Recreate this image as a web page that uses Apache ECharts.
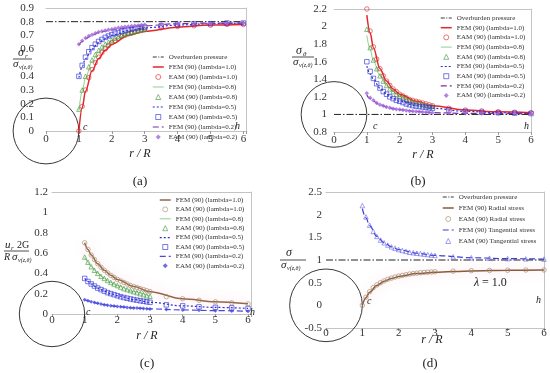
<!DOCTYPE html>
<html><head><meta charset="utf-8">
<script src="https://cdn.jsdelivr.net/npm/echarts@6/dist/echarts.min.js"></script>
<style>html,body{margin:0;padding:0;background:#fff}#c{width:550px;height:373px}</style>
</head><body><div id="c"></div>
<script>
// ---- x positions ----
const xEam = [1,1.1,1.2,1.3,1.4,1.5,1.6,1.7,1.8,1.9,2,2.1,2.2,2.3,2.4,2.5,2.6,2.7,2.8,2.9,3,3.5,4,4.5,5,5.5,6];
const xEamShort = [1,1.1,1.2,1.3,1.4,1.5,1.6,1.7,1.8,1.9,2,2.1,2.2,2.3,2.4,2.5,2.6,2.7,2.8,2.9,3];
const xFem = [1,1.1,1.2,1.4,1.6,1.8,2,2.5,3,4,5,6];
const xFemShort = [1,1.1,1.2,1.4,1.6,1.8,2,2.5,3];
const xOver = [0,6];

// ---- panel (a): radial stress ----
const overA = [0.8,0.8];
const aFem10 = [0,0.17,0.29,0.44,0.53,0.59,0.635,0.70,0.73,0.76,0.775,0.78];
const aEam10 = [0,0.18,0.30,0.39,0.45,0.50,0.54,0.575,0.60,0.625,0.645,0.66,0.675,0.69,0.70,0.71,0.72,0.725,0.73,0.735,0.74,0.755,0.765,0.77,0.775,0.78,0.78];
const aFem08 = [0.15,0.29,0.39,0.51,0.58,0.625,0.66,0.71,0.74];
const aEam08 = [0.16,0.30,0.40,0.47,0.52,0.56,0.59,0.615,0.635,0.65,0.665,0.68,0.69,0.70,0.71,0.715,0.72,0.73,0.735,0.74,0.745];
const aFem05 = [0.39,0.47,0.53,0.60,0.645,0.675,0.70,0.735,0.755,0.775,0.785,0.79];
const aEam05 = [0.40,0.48,0.54,0.58,0.61,0.635,0.655,0.67,0.685,0.695,0.705,0.715,0.72,0.73,0.735,0.74,0.745,0.75,0.755,0.76,0.76,0.77,0.78,0.785,0.785,0.79,0.79];
const aFem02 = [0.63,0.655,0.675,0.70,0.72,0.73,0.74,0.755,0.77,0.785,0.79,0.79];
const aEam02 = [0.635,0.66,0.68,0.695,0.705,0.715,0.725,0.73,0.735,0.74,0.745,0.75,0.755,0.76,0.762,0.765,0.768,0.77,0.772,0.775,0.778,0.782,0.785,0.787,0.788,0.79,0.79];

// ---- panel (b): tangential stress ----
const overB = [1,1];
const bFem10 = [2.13,1.93,1.76,1.52,1.38,1.29,1.23,1.15,1.10,1.05,1.03,1.02];
const bEam10 = [2.20,1.95,1.77,1.63,1.52,1.44,1.38,1.33,1.29,1.26,1.23,1.21,1.19,1.17,1.16,1.15,1.14,1.13,1.12,1.11,1.10,1.07,1.05,1.04,1.03,1.025,1.02];
const bFem08 = [1.90,1.74,1.61,1.44,1.33,1.26,1.21,1.14,1.09];
const bEam08 = [1.97,1.76,1.62,1.52,1.44,1.38,1.33,1.29,1.26,1.23,1.21,1.19,1.17,1.155,1.14,1.13,1.12,1.11,1.10,1.095,1.09];
const bFem05 = [1.55,1.46,1.40,1.30,1.23,1.18,1.15,1.10,1.07,1.035,1.02,1.01];
const bEam05 = [1.60,1.49,1.41,1.35,1.30,1.26,1.23,1.20,1.18,1.16,1.15,1.135,1.12,1.11,1.10,1.095,1.09,1.085,1.08,1.075,1.07,1.05,1.035,1.025,1.02,1.015,1.01];
const bFem02 = [1.22,1.18,1.15,1.11,1.085,1.065,1.055,1.035,1.02,1.012,1.01,1.01];
const bEam02 = [1.24,1.19,1.16,1.13,1.11,1.10,1.085,1.075,1.065,1.06,1.055,1.05,1.045,1.04,1.037,1.034,1.031,1.028,1.025,1.023,1.02,1.015,1.012,1.01,1.01,1.01,1.01];

// ---- panel (c): displacement ----
const cFem10 = [0.70,0.635,0.58,0.495,0.43,0.38,0.34,0.27,0.22,0.15,0.12,0.10];
const cEam10 = [0.70,0.635,0.58,0.535,0.495,0.46,0.43,0.405,0.38,0.36,0.34,0.325,0.31,0.295,0.28,0.27,0.26,0.25,0.24,0.23,0.22,0.17,0.15,0.135,0.12,0.11,0.10];
const cFem08 = [0.56,0.51,0.465,0.40,0.35,0.31,0.28,0.22,0.175];
const cEam08 = [0.56,0.51,0.465,0.43,0.40,0.37,0.35,0.33,0.31,0.295,0.28,0.265,0.25,0.24,0.23,0.22,0.21,0.20,0.19,0.18,0.175];
const cFem05 = [0.35,0.32,0.295,0.255,0.225,0.20,0.18,0.142,0.115,0.08,0.065,0.055];
const cEam05 = [0.35,0.32,0.295,0.275,0.255,0.24,0.225,0.21,0.20,0.19,0.18,0.17,0.162,0.155,0.148,0.142,0.136,0.13,0.125,0.12,0.115,0.09,0.08,0.07,0.065,0.06,0.055];
const cFem02 = [0.14,0.13,0.12,0.105,0.092,0.082,0.074,0.06,0.05,0.04,0.033,0.028];
const cEam02 = [0.14,0.13,0.12,0.112,0.105,0.098,0.092,0.087,0.082,0.078,0.074,0.071,0.068,0.065,0.062,0.06,0.058,0.056,0.054,0.052,0.05,0.044,0.04,0.036,0.033,0.03,0.028];

// ---- panel (d): lambda = 1.0 ----
const overD = [1,1];
const dFemRad = [0,0.17,0.29,0.44,0.53,0.59,0.635,0.70,0.73,0.76,0.775,0.78];
const dEamRad = [0,0.18,0.30,0.39,0.45,0.50,0.54,0.575,0.60,0.625,0.645,0.66,0.675,0.69,0.70,0.71,0.72,0.725,0.73,0.735,0.74,0.755,0.765,0.77,0.775,0.78,0.78];
const dFemTan = [2.13,1.93,1.76,1.52,1.38,1.29,1.23,1.15,1.10,1.05,1.03,1.02];
const dEamTan = [2.20,1.95,1.77,1.63,1.52,1.44,1.38,1.33,1.29,1.26,1.23,1.21,1.19,1.17,1.16,1.15,1.14,1.13,1.12,1.11,1.10,1.07,1.05,1.04,1.03,1.025,1.02];

// tunnel circles: centre (x, y) in data units, radius 1 (r/R)
const circleA = [0,0], circleB = [0,1], circleC = [0,0], circleD = [0,0];

// names
const nOver = 'Overburden pressure';
const namesL = ['FEM (90) (lambda=1.0)','EAM (90) (lambda=1.0)','FEM (90) (lambda=0.8)','EAM (90) (lambda=0.8)','FEM (90) (lambda=0.5)','EAM (90) (lambda=0.5)','FEM (90) (lambda=0.2)','EAM (90) (lambda=0.2)'];
const namesC = namesL.map(n => n + '\u200b');
const namesD = ['FEM (90) Radial stress','EAM (90) Radial stress','FEM (90) Tangential stress','EAM (90) Tangential stress'];

const SERIF = "'Liberation Serif', 'Times New Roman', serif";
const pairs = (xs, ys) => ys.map((y, i) => [xs[i], y]);

const grids = [
  {left:46, top:8, width:200.7, height:123},
  {left:334, top:9, width:197, height:123},
  {left:52, top:192, width:199.3, height:122},
  {left:326, top:192, width:218, height:136}
];
const xMax = [6.1, 6, 6.1, 6];
const yCfg = [
  {min:0, max:0.9, interval:0.1, margin:12},
  {min:0.8, max:2.2, interval:0.2, margin:7},
  {min:0, max:1.2, interval:0.2, margin:4},
  {min:-0.5, max:2.5, interval:0.5, margin:4}
];
const xMargin = [3, 3, 1, 0];
const border = '#c4c4c4';

const xAxes = [], yAxes = [];
for (let i = 0; i < 4; i++) {
  xAxes.push({gridIndex:i, type:'value', min:0, max:xMax[i], interval:1, position:'bottom',
    axisLine:{show:true, onZero:false, lineStyle:{color:border}},
    axisTick:{show:true, length:3, lineStyle:{color:'#999'}},
    splitLine:{show:false},
    axisLabel:{margin:xMargin[i], fontSize:11, fontFamily:SERIF, color:'#333',
      formatter: v => (Math.abs(v - Math.round(v)) < 1e-9 ? String(Math.round(v)) : '')}});
  yAxes.push({gridIndex:i, type:'value', min:yCfg[i].min, max:yCfg[i].max, interval:yCfg[i].interval,
    axisLine:{show:false}, axisTick:{show:false}, splitLine:{show:false},
    axisLabel:{margin:yCfg[i].margin, fontSize:11, fontFamily:SERIF, color:'#333'}});
}
for (let i = 0; i < 4; i++) {
  xAxes.push({gridIndex:i, type:'value', min:0, max:xMax[i], position:'top',
    axisLine:{show:true, onZero:false, lineStyle:{color:border}}, axisTick:{show:false}, axisLabel:{show:false}, splitLine:{show:false}});
  yAxes.push({gridIndex:i, type:'value', min:yCfg[i].min, max:yCfg[i].max, position:'right',
    axisLine:{show:true, onZero:false, lineStyle:{color:border}}, axisTick:{show:false}, axisLabel:{show:false}, splitLine:{show:false}});
}

const SHAPES = {
  circle:'path://M50,0A50,50,0,1,1,49.99,0Z',
  triangle:'path://M50,0L100,100L0,100Z',
  rect:'path://M0,0L100,0L100,100L0,100Z',
  diamond:'path://M50,0L100,50L50,100L0,50Z'
};
const CLEAR = 'rgba(255,255,255,0)';

const series = [];
const legendItems = [[], [], [], []];
const dashDot = [7, 2, 1.5, 2];
function over(i, ys) {
  series.push({type:'line', name:nOver, xAxisIndex:i, yAxisIndex:i, data:pairs(xOver, ys), symbol:'none',
    lineStyle:{color:'#222', width:1, type:dashDot}, itemStyle:{color:'#222'}, z:3});
  legendItems[i].push({name:nOver, itemStyle:{opacity:0}, lineStyle:{color:'#222', width:0.9, type:[4,1.5,1,1.5]}});
}
function fem(i, name, xs, ys, color, width, type, glow) {
  const ls = {color, width, type};
  if (glow) { ls.shadowColor = 'rgba(255,120,150,0.45)'; ls.shadowBlur = 12; }
  series.push({type:'line', name, xAxisIndex:i, yAxisIndex:i, data:pairs(xs, ys), symbol:'none',
    smooth:0.35, smoothMonotone:'x', lineStyle:ls, itemStyle:{color}, z:2});
  legendItems[i].push({name, itemStyle:{opacity:0}, lineStyle:{color, width, type, shadowBlur:0}});
}
function eam(i, name, xs, ys, color, shape, hollow, size) {
  const fill = hollow ? CLEAR : color;
  series.push({type:'scatter', name, xAxisIndex:i, yAxisIndex:i, data:pairs(xs, ys), symbol:shape, symbolSize:size || 4.5,
    itemStyle:{color:fill, borderColor:color, borderWidth:hollow ? 0.8 : 0}, z:4});
  legendItems[i].push({name, icon:SHAPES[shape], itemStyle:{color:fill, borderColor:color, borderWidth:hollow ? 0.8 : 0}});
}
function circle(i, c) {
  series.push({type:'custom', xAxisIndex:i, yAxisIndex:i, data:[c], silent:true, clip:false, z:1,
    renderItem:(params, api) => {
      const p = api.coord([api.value(0), api.value(1)]);
      const q = api.coord([api.value(0) + 1, api.value(1)]);
      return {type:'circle', shape:{cx:p[0], cy:p[1], r:q[0] - p[0]}, style:{fill:'none', stroke:'#222', lineWidth:0.9}};
    }});
}

const RED = '#e3262b', GREENL = '#8fd08f', GREEN = '#3f9a3f', BLUE = '#2f2fd6', PURL = '#7b2fa8', PUR = '#a066d8';

// (a)
circle(0, circleA);
over(0, overA);
fem(0, namesL[0], xFem, aFem10, RED, 1.5, 'solid');
eam(0, namesL[1], xEam, aEam10, RED, 'circle', true);
fem(0, namesL[2], xFemShort, aFem08, GREENL, 1, 'solid');
eam(0, namesL[3], xEamShort, aEam08, GREEN, 'triangle', true);
fem(0, namesL[4], xFem, aFem05, BLUE, 1.2, [2,2]);
eam(0, namesL[5], xEam, aEam05, BLUE, 'rect', true);
fem(0, namesL[6], xFem, aFem02, PURL, 1.2, [6,3]);
eam(0, namesL[7], xEam, aEam02, PUR, 'diamond', false);
// (b)
circle(1, circleB);
over(1, overB);
fem(1, namesL[0], xFem, bFem10, RED, 1.5, 'solid');
eam(1, namesL[1], xEam, bEam10, RED, 'circle', true);
fem(1, namesL[2], xFemShort, bFem08, GREENL, 1, 'solid');
eam(1, namesL[3], xEamShort, bEam08, GREEN, 'triangle', true);
fem(1, namesL[4], xFem, bFem05, BLUE, 1.2, [2,2]);
eam(1, namesL[5], xEam, bEam05, BLUE, 'rect', true);
fem(1, namesL[6], xFem, bFem02, PURL, 1.2, [6,3]);
eam(1, namesL[7], xEam, bEam02, PUR, 'diamond', false);
// (c)
const BROWN = '#93664a', TAN = '#a88a6a', CBLUE = '#4848e0';
circle(2, circleC);
fem(2, namesC[0], xFem, cFem10, BROWN, 1.5, 'solid', true);
eam(2, namesC[1], xEam, cEam10, TAN, 'circle', true);
fem(2, namesC[2], xFemShort, cFem08, GREENL, 1, 'solid');
eam(2, namesC[3], xEamShort, cEam08, GREEN, 'triangle', true);
fem(2, namesC[4], xFem, cFem05, BLUE, 1.2, [2,2]);
eam(2, namesC[5], xEam, cEam05, BLUE, 'rect', true);
fem(2, namesC[6], xFem, cFem02, CBLUE, 1.2, [6,3]);
eam(2, namesC[7], xEam, cEam02, CBLUE, 'diamond', false, 4);
// (d)
circle(3, circleD);
over(3, overD);
fem(3, namesD[0], xFem, dFemRad, '#8a5a3a', 1.5, 'solid', true);
eam(3, namesD[1], xEam, dEamRad, '#a08468', 'circle', true);
fem(3, namesD[2], xFem, dFemTan, '#3b3bdb', 1.2, [6,3]);
eam(3, namesD[3], xEam, dEamTan, '#6a6ae6', 'triangle', true);

const legTxt = {fontSize:7, fontFamily:SERIF, color:'#333', lineHeight:8};
function leg(left, top, gap, data) {
  return {left, top, orient:'vertical', itemWidth:11, itemHeight:5, itemGap:gap, padding:0,
    selectedMode:false, symbolKeepAspect:true, textStyle:legTxt, data};
}
const legends = [
  leg(152, 53, 2, legendItems[0]),
  leg(440, 14, 1.7, legendItems[1]),
  leg(159, 196, 1.4, legendItems[2]),
  leg(442, 193, 3, legendItems[3])
];

// ---- text graphics ----
const g = [];
function txt(x, y, text, size, italic, align) {
  g.push({type:'text', x, y, silent:true, z:10, style:{text, fontSize:size, fontFamily:SERIF,
    fontStyle: italic ? 'italic' : 'normal', fill:'#222',
    align: align || 'left', textAlign: align || 'left', verticalAlign:'middle', textVerticalAlign:'middle'}});
}
function hline(x1, x2, y) {
  g.push({type:'line', silent:true, z:10, shape:{x1, y1:y, x2, y2:y}, style:{stroke:'#222', lineWidth:0.8}});
}
function bg(x, y, w, h) {
  g.push({type:'rect', silent:true, z:9, shape:{x, y, width:w, height:h}, style:{fill:'#fff'}});
}
// y-axis titles
bg(12, 55, 24, 14);
txt(18, 53, 'σ', 12, true); txt(25, 56, 'r', 7, true);
hline(13, 32, 59);
txt(13, 64, 'σ', 11, true); txt(19, 67, 'v(z,θ)', 6, true);
txt(296, 51, 'σ', 12, true); txt(303, 54, 'θ', 7, true);
hline(292, 314, 57);
txt(293, 62, 'σ', 11, true); txt(299, 65, 'v(z,θ)', 6, true);
txt(5, 245, 'u', 11, true); txt(11, 248, 'r', 7, true); txt(17, 245, '2G', 10, false);
hline(4, 29, 251);
txt(4, 257, 'R', 10, true); txt(12, 257, 'σ', 11, true); txt(18, 260, 'v(z,θ)', 6, true);
txt(286, 253, 'σ', 12, true);
hline(280, 306, 260);
txt(281, 265, 'σ', 11, true); txt(287, 268, 'v(z,θ)', 6, true);

// x-axis titles
txt(140, 154, 'r / R', 12, true, 'center');
txt(423, 155, 'r / R', 12, true, 'center');
txt(147, 336, 'r / R', 12, true, 'center');
txt(432, 340, 'r / R', 12, true, 'center');
// sub-figure labels
txt(140, 182, '(a)', 13, false, 'center');
txt(418, 182, '(b)', 13, false, 'center');
txt(147, 364, '(c)', 13, false, 'center');
txt(430, 364, '(d)', 13, false, 'center');
// point labels c / h
txt(83, 127, 'c', 10, true); txt(235, 126, 'h', 10, true);
txt(373, 126, 'c', 10, true); txt(524, 126, 'h', 10, true);
txt(86, 312, 'c', 10, true); txt(250, 312, 'h', 10, true);
txt(367, 301, 'c', 10, true); txt(536, 300, 'h', 10, true);
// lambda note
txt(474, 283, 'λ', 12, true); txt(482, 283, '= 1.0', 12, false);

const chart = echarts.init(document.getElementById('c'), null, {renderer:'canvas'});
chart.setOption({
  animation:false,
  backgroundColor:'#fff',
  grid:grids,
  xAxis:xAxes,
  yAxis:yAxes,
  legend:legends,
  series,
  graphic:g
});
</script></body></html>
